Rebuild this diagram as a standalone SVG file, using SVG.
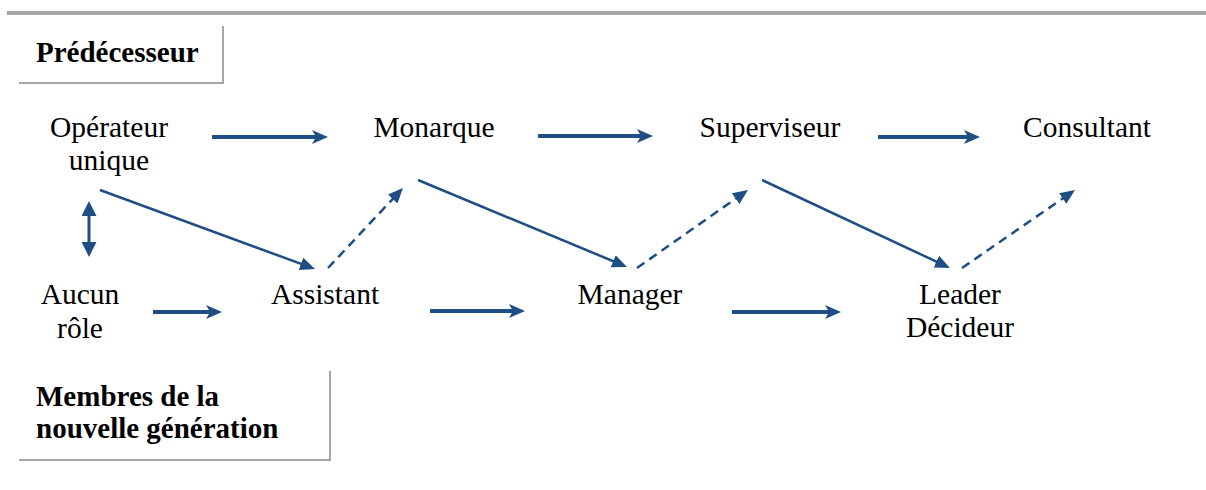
<svg xmlns="http://www.w3.org/2000/svg" width="1206" height="490" viewBox="0 0 1206 490">
  <style>
    .lbl { font-family: "Liberation Serif", "Times New Roman", serif; font-size: 29.5px; fill: #000; text-anchor: middle; }
    .hdr { font-family: "Liberation Serif", "Times New Roman", serif; font-size: 29px; font-weight: bold; fill: #000; }
    .frame { fill: none; stroke: #a6a6a6; stroke-width: 2; }
    .thick { stroke: #1f4e84; stroke-width: 4; fill: none; marker-end: url(#stealth); }
    .thin { stroke: #1f4e84; stroke-width: 2.5; fill: none; marker-end: url(#tri); }
    .dash { stroke: #1f4e84; stroke-width: 2.5; fill: none; stroke-dasharray: 9 6; marker-end: url(#tri); }
  </style>
  <defs>
    <marker id="stealth" viewBox="0 0 16 14" refX="8" refY="7" markerWidth="16" markerHeight="14" markerUnits="userSpaceOnUse" orient="auto">
      <path d="M0,0 L16,7 L0,14 L4,7 Z" fill="#1f4e84"/>
    </marker>
    <marker id="tri" viewBox="0 0 15 13" refX="6" refY="6.5" markerWidth="15" markerHeight="13" markerUnits="userSpaceOnUse" orient="auto">
      <path d="M0,0 L15,6.5 L0,13 Z" fill="#1f4e84"/>
    </marker>
    <marker id="tri2" viewBox="0 0 15 15" refX="6" refY="7.5" markerWidth="15" markerHeight="15" markerUnits="userSpaceOnUse" orient="auto-start-reverse">
      <path d="M0,0 L15,7.5 L0,15 Z" fill="#1f4e84"/>
    </marker>
  </defs>

  <!-- top rule -->
  <rect x="7" y="11" width="1199" height="4" fill="#a6a6a6"/>

  <!-- section headers -->
  <g id="predecesseur">
    <path class="frame" d="M223,26 V83 H19"/>
    <text class="hdr" x="36" y="62">Prédécesseur</text>
  </g>
  <g id="nouvelle-generation">
    <path class="frame" d="M330,371 V460 H19"/>
    <text class="hdr" x="36" y="406">Membres de la</text>
    <text class="hdr" x="36" y="438">nouvelle génération</text>
  </g>

  <!-- roles, previous generation -->
  <g id="operateur">
    <text class="lbl" x="109" y="137">Opérateur</text>
    <text class="lbl" x="109" y="170">unique</text>
  </g>
  <g id="monarque"><text class="lbl" x="434" y="137">Monarque</text></g>
  <g id="superviseur"><text class="lbl" x="770" y="137">Superviseur</text></g>
  <g id="consultant"><text class="lbl" x="1087" y="137">Consultant</text></g>

  <!-- roles, new generation -->
  <g id="aucun">
    <text class="lbl" x="80" y="304">Aucun</text>
    <text class="lbl" x="80" y="338">rôle</text>
  </g>
  <g id="assistant"><text class="lbl" x="325" y="304">Assistant</text></g>
  <g id="manager"><text class="lbl" x="630" y="304">Manager</text></g>
  <g id="leader">
    <text class="lbl" x="960" y="304">Leader</text>
    <text class="lbl" x="960" y="337">Décideur</text>
  </g>

  <g id="connectors">
    <!-- successions within each generation -->
    <line class="thick" x1="212" y1="137" x2="320" y2="137"/>
    <line class="thick" x1="538" y1="136" x2="645" y2="136"/>
    <line class="thick" x1="878" y1="137" x2="972" y2="137"/>
    <line class="thick" x1="153" y1="312" x2="214" y2="312"/>
    <line class="thick" x1="430" y1="311" x2="517" y2="311"/>
    <line class="thick" x1="732" y1="312" x2="833" y2="312"/>
    <!-- predecessor to successor -->
    <line class="thin" x1="100" y1="190" x2="306.6" y2="265.9"/>
    <line class="thin" x1="418" y1="180" x2="618.7" y2="263.5"/>
    <line class="thin" x1="762" y1="180" x2="941.8" y2="264.2"/>
    <!-- successor to predecessor (dashed) -->
    <line class="dash" x1="328" y1="268" x2="396.8" y2="194.6"/>
    <line class="dash" x1="637" y1="268" x2="740.6" y2="195.2"/>
    <line class="dash" x1="962" y1="268" x2="1067.6" y2="195.1"/>
    <!-- two-way link -->
    <line x1="89" y1="210" x2="89" y2="248" stroke="#1f4e84" stroke-width="3" marker-start="url(#tri2)" marker-end="url(#tri2)"/>
  </g>
</svg>
